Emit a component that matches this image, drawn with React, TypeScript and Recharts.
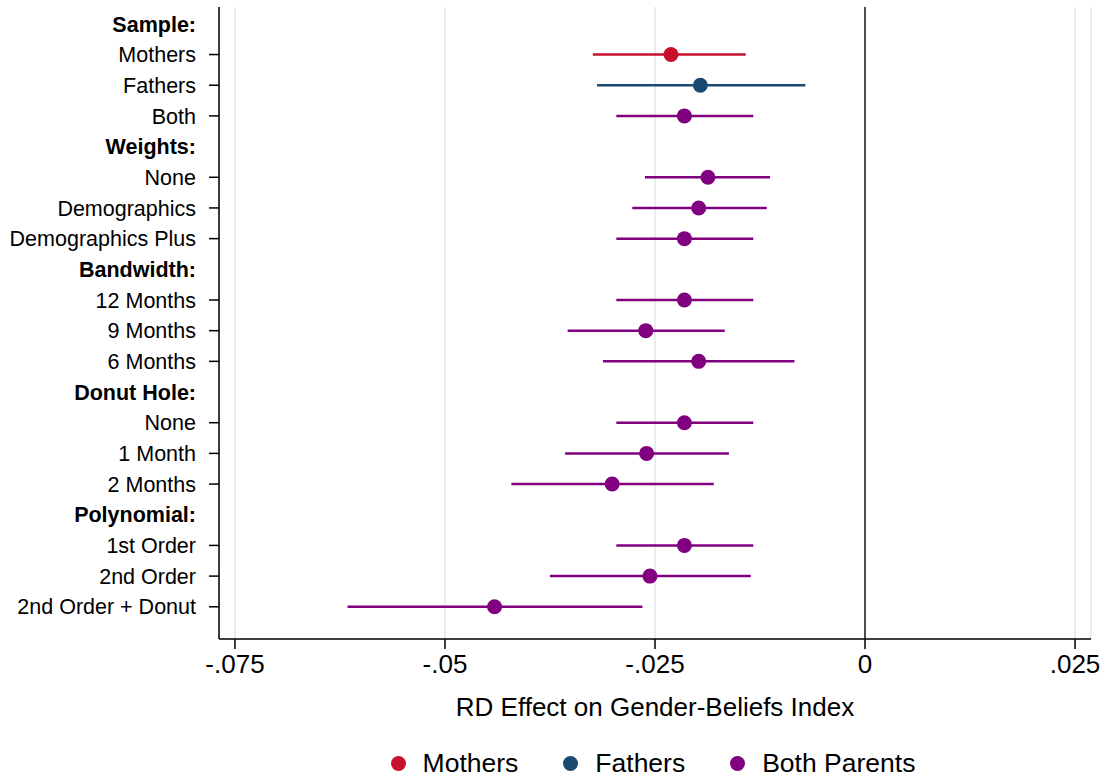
import { ScatterChart, Scatter, XAxis, YAxis, CartesianGrid, ReferenceLine, ErrorBar } from "recharts"

const rowLabels = [
  "Sample:", "Mothers", "Fathers", "Both",
  "Weights:", "None", "Demographics", "Demographics Plus",
  "Bandwidth:", "12 Months", "9 Months", "6 Months",
  "Donut Hole:", "None", "1 Month", "2 Months",
  "Polynomial:", "1st Order", "2nd Order", "2nd Order + Donut",
]
const headerRows = [0, 4, 8, 12, 16]

// point estimate and 95% CI per row (null for header rows)
const estimates = [null, -0.0231, -0.0196, -0.0215, null, -0.0187, -0.0198, -0.0215, null, -0.0215, -0.0261, -0.0198, null, -0.0215, -0.026, -0.0301, null, -0.0215, -0.0256, -0.0441]
const ciLow = [null, -0.0324, -0.0319, -0.0296, null, -0.0262, -0.0277, -0.0296, null, -0.0296, -0.0354, -0.0312, null, -0.0296, -0.0357, -0.0421, null, -0.0296, -0.0375, -0.0616]
const ciHigh = [null, -0.0142, -0.0071, -0.0133, null, -0.0113, -0.0117, -0.0133, null, -0.0133, -0.0167, -0.0084, null, -0.0133, -0.0162, -0.018, null, -0.0133, -0.0136, -0.0265]
const rowGroup = [null, "Mothers", "Fathers", "Both Parents", null, "Both Parents", "Both Parents", "Both Parents", null, "Both Parents", "Both Parents", "Both Parents", null, "Both Parents", "Both Parents", "Both Parents", null, "Both Parents", "Both Parents", "Both Parents"]

const groups = ["Mothers", "Fathers", "Both Parents"]
const groupColors = ["#c8102e", "#1a4a72", "#800080"]

const xTicks = [-0.075, -0.05, -0.025, 0, 0.025]

const font = "'Liberation Sans', Arial, sans-serif"

function seriesData(group: string) {
  const out: { x: number; row: number; err: number[] }[] = []
  rowLabels.forEach((_, i) => {
    if (rowGroup[i] !== group) return
    const x = estimates[i] as number
    out.push({ x, row: i, err: [x - (ciLow[i] as number), (ciHigh[i] as number) - x] })
  })
  return out
}

function fmt(v: number) {
  if (v === 0) return "0"
  return String(v).replace("0.", ".")
}

function RowTick(props: any) {
  const { x, y, payload } = props
  const i = payload.value
  const isHeader = headerRows.includes(i)
  return (
    <g>
      {!isHeader && <line x1={x + 13} x2={x + 23} y1={y} y2={y} stroke="#000" strokeWidth={1.5} />}
      <text x={x} y={y} dy="0.355em" textAnchor="end" fontSize={21.5} fontWeight={isHeader ? 700 : 400} fill="#000" fontFamily={font}>
        {rowLabels[i]}
      </text>
    </g>
  )
}

export default function App() {
  return (
    <div style={{ position: "relative", width: 1106, height: 779, fontFamily: font, background: "#fff" }}>
      <style>{"body{margin:0}"}</style>
      <ScatterChart width={1106} height={779} margin={{ top: 7, right: 15, left: 0, bottom: 50 }}>
        <CartesianGrid horizontal={false} stroke="#e6eef2" strokeWidth={2} />
        <XAxis
          type="number"
          dataKey="x"
          domain={[-0.0769, 0.0269]}
          ticks={xTicks}
          tickFormatter={fmt}
          height={90}
          tickSize={10}
          tickMargin={6}
          stroke="#000"
          strokeWidth={1.5}
          tick={{ fontSize: 26, fill: "#000", fontFamily: font }}
          label={{ value: "RD Effect on Gender-Beliefs Index", position: "insideBottom", offset: 13, fontSize: 26, fill: "#000", fontFamily: font }}
        />
        <YAxis
          type="number"
          dataKey="row"
          domain={[-0.55, 20.05]}
          ticks={rowLabels.map((_, i) => i)}
          interval={0}
          reversed
          width={219}
          tickSize={10}
          tickMargin={13}
          tickLine={false}
          stroke="#000"
          strokeWidth={1.5}
          tick={<RowTick />}
        />
        <ReferenceLine x={0} stroke="#1a1a1a" strokeWidth={1.5} />
        {groups.map((g, k) => (
          <Scatter
            key={g}
            name={g}
            data={seriesData(g)}
            fill={groupColors[k]}
            isAnimationActive={false}
            shape={(p: any) => <circle cx={p.cx} cy={p.cy} r={7.5} fill={groupColors[k]} />}
          >
            <ErrorBar dataKey="err" direction="x" width={0} stroke={groupColors[k]} strokeWidth={2.5} />
          </Scatter>
        ))}
      </ScatterChart>
      <div
        style={{
          position: "absolute",
          left: 213,
          width: 880,
          top: 749,
          display: "flex",
          justifyContent: "center",
          alignItems: "center",
          fontSize: 26.5,
          lineHeight: "28px",
          color: "#000",
        }}
      >
        {groups.map((g, k) => (
          <div key={g} style={{ display: "flex", alignItems: "center", marginLeft: k === 0 ? 0 : 45 }}>
            <span style={{ width: 15, height: 15, borderRadius: 8, background: groupColors[k], marginRight: 17 }} />
            <span>{g}</span>
          </div>
        ))}
      </div>
    </div>
  )
}
